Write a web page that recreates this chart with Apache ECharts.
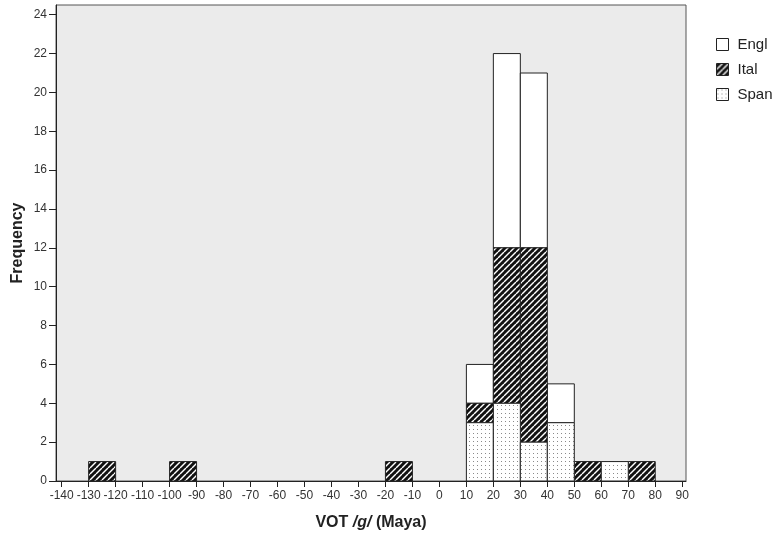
<!DOCTYPE html>
<html>
<head>
<meta charset="utf-8">
<script src="https://cdn.jsdelivr.net/npm/echarts@6/dist/echarts.min.js"></script>
<style>
  html, body { margin: 0; padding: 0; background: #ffffff; }
  #chart { width: 783px; height: 538px; }
</style>
</head>
<body>
<div id="chart"></div>
<script>
// Histogram bins (width 10) from -140 to 90
const binEdges = [-140, -130, -120, -110, -100, -90, -80, -70, -60, -50, -40, -30,
                  -20, -10, 0, 10, 20, 30, 40, 50, 60, 70, 80, 90];
// Counts per bin, one entry per bin (23 bins)
const spanCounts = [0, 0, 0, 0, 0, 0, 0, 0, 0, 0, 0, 0, 0, 0, 0, 3, 4, 2, 3, 0, 1, 0, 0];
const italCounts = [0, 1, 0, 0, 1, 0, 0, 0, 0, 0, 0, 0, 1, 0, 0, 1, 8, 10, 0, 1, 0, 1, 0];
const englCounts = [0, 0, 0, 0, 0, 0, 0, 0, 0, 0, 0, 0, 0, 0, 0, 2, 10, 9, 2, 0, 0, 0, 0];
const seriesNames = ['Engl', 'Ital', 'Span'];
const xTicks = binEdges.slice();
const yTicks = [0, 2, 4, 6, 8, 10, 12, 14, 16, 18, 20, 22, 24];

// Fill patterns
function makeHatch() {
  const c = document.createElement('canvas');
  c.width = 6; c.height = 6;
  const g = c.getContext('2d');
  g.fillStyle = '#111';
  g.fillRect(0, 0, 6, 6);
  g.strokeStyle = '#ffffff';
  g.lineWidth = 1.4;
  for (let k = -6; k <= 12; k += 6) {
    g.beginPath();
    g.moveTo(k, 6);
    g.lineTo(k + 6, 0);
    g.stroke();
  }
  return c;
}
function makeDots() {
  const c = document.createElement('canvas');
  c.width = 4; c.height = 4;
  const g = c.getContext('2d');
  g.fillStyle = '#ffffff';
  g.fillRect(0, 0, 4, 4);
  g.fillStyle = '#8a8a8a';
  g.fillRect(1, 1, 1, 1);
  return c;
}
const fills = {
  Engl: '#ffffff',
  Ital: { image: makeHatch(), repeat: 'repeat' },
  Span: { image: makeDots(), repeat: 'repeat' }
};

// Stack Span at the bottom, Ital above, Engl on top
const counts = { Span: spanCounts, Ital: italCounts, Engl: englCounts };
const stackOrder = ['Span', 'Ital', 'Engl'];
const rects = { Span: [], Ital: [], Engl: [] };
for (let i = 0; i < binEdges.length - 1; i++) {
  let base = 0;
  stackOrder.forEach(function (name) {
    const v = counts[name][i];
    if (v > 0) rects[name].push([binEdges[i], binEdges[i + 1], base, base + v]);
    base += v;
  });
}

function renderBin(fill) {
  return function (params, api) {
    const p0 = api.coord([api.value(0), api.value(3)]);
    const p1 = api.coord([api.value(1), api.value(2)]);
    return {
      type: 'rect',
      shape: { x: p0[0], y: p0[1], width: p1[0] - p0[0], height: p1[1] - p0[1] },
      style: { fill: fill, stroke: '#222', lineWidth: 1 }
    };
  };
}

const chart = echarts.init(document.getElementById('chart'), null, { renderer: 'canvas' });
const font = '"Liberation Sans", Arial, sans-serif';

chart.setOption({
  animation: false,
  textStyle: { fontFamily: font },
  grid: {
    left: 56, right: 97, top: 5, bottom: 57,
    show: true, backgroundColor: '#ebebeb', borderColor: '#555', borderWidth: 1
  },
  legend: {
    orient: 'vertical', left: 711, top: 32,
    itemWidth: 12, itemHeight: 12, itemGap: 10,
    icon: 'rect',
    textStyle: { fontSize: 15, lineHeight: 15, color: '#222', fontFamily: font, padding: [0, 0, 0, 4] },
    data: seriesNames.map(function (n) {
      return { name: n, itemStyle: { color: fills[n], borderColor: '#222', borderWidth: 1 } };
    })
  },
  xAxis: {
    type: 'value', min: -142.1, max: 91.4,
    name: '{b|VOT }{bi|/g/}{b| (Maya)}', nameLocation: 'middle', nameGap: 34,
    nameMoveOverlap: false,
    nameTextStyle: {
      rich: {
        b: { fontSize: 16, fontWeight: 'bold', color: '#222', fontFamily: font },
        bi: { fontSize: 16, fontWeight: 'bold', fontStyle: 'italic', color: '#222', fontFamily: font }
      }
    },
    splitLine: { show: false },
    axisLine: { show: true, onZero: false, lineStyle: { color: '#222', width: 1 } },
    axisTick: { show: true, length: 6, customValues: xTicks, lineStyle: { color: '#222' } },
    axisLabel: { customValues: xTicks, fontSize: 12, color: '#333', margin: 9, fontFamily: font }
  },
  yAxis: {
    type: 'value', min: 0, max: 24.5,
    name: 'Frequency', nameLocation: 'middle', nameGap: 30, nameRotate: 90,
    nameMoveOverlap: false,
    nameTextStyle: { fontSize: 16, fontWeight: 'bold', color: '#222', fontFamily: font },
    splitLine: { show: false },
    axisLine: { show: true, onZero: false, lineStyle: { color: '#222', width: 1 } },
    axisTick: { show: true, length: 7, customValues: yTicks, lineStyle: { color: '#222' } },
    axisLabel: { customValues: yTicks, fontSize: 12, color: '#333', margin: 9, fontFamily: font }
  },
  series: seriesNames.map(function (n) {
    return {
      name: n, type: 'custom',
      renderItem: renderBin(fills[n]),
      itemStyle: { color: fills[n], borderColor: '#222', borderWidth: 1 },
      encode: { x: [0, 1], y: [2, 3] },
      data: rects[n]
    };
  })
});
</script>
</body>
</html>
